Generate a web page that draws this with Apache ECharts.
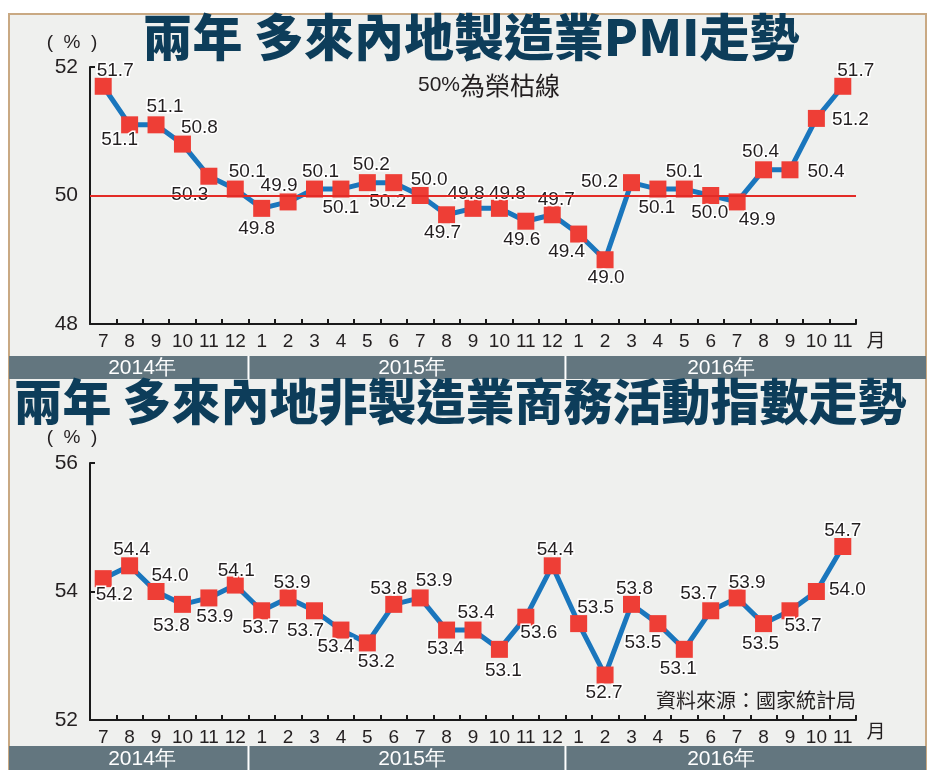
<!DOCTYPE html>
<html><head><meta charset="utf-8">
<script src="https://cdn.jsdelivr.net/npm/echarts@6/dist/echarts.min.js"></script>
<style>
html,body{margin:0;padding:0;background:#fff;overflow:hidden;width:946px;height:770px;}
#frame{position:absolute;left:8px;top:13px;width:919px;height:800px;background:#eff0ee;border:2px solid #c9a983;box-sizing:border-box;}
#chart{position:absolute;left:0;top:0;width:946px;height:770px;}
</style></head><body>
<div id="frame"></div><div id="chart"></div>
<script>
// ---- data ----
const months = ['7','8','9','10','11','12','1','2','3','4','5','6','7','8','9','10','11','12','1','2','3','4','5','6','7','8','9','10','11'];
const years = ['2014年','2015年','2016年'];
const pmiValues = [51.7,51.1,51.1,50.8,50.3,50.1, 49.8,49.9,50.1,50.1,50.2,50.2,50.0,49.7,49.8,49.8,49.6,49.7, 49.4,49.0,50.2,50.1,50.1,50.0,49.9,50.4,50.4,51.2,51.7];
const nonMfgValues = [54.2,54.4,54.0,53.8,53.9,54.1, 53.7,53.9,53.7,53.4,53.2,53.8,53.9,53.4,53.4,53.1,53.6,54.4, 53.5,52.7,53.8,53.5,53.1,53.7,53.9,53.5,53.7,54.0,54.7];
const pmiAxis = {min:48, max:52, interval:2};
const nonMfgAxis = {min:52, max:56, interval:2};
const pmiThreshold = 50;
// label placement (offsets from marker centre), kept apart from the data
const pmiLabelOffsets = [[12,-16],[-10,15],[9,-18],[17,-16],[-19,19],[12,-17],[-5,20],[-9,-16],[6,-17],[0,19],[4,-18],[-6,19],[9,-16],[-4,18],[-7,-15],[8,-15],[-4,19],[4,-15],[-12,18],[1,18],[-32,-1],[-1,19],[0,-17],[-1,17],[20,18],[-3,-18],[36,2],[34,1],[13,-16]];
const nonMfgLabelOffsets = [[11,16],[2,-16],[14,-16],[-11,21],[6,19],[1,-14],[-1,17],[4,-15],[-9,20],[-5,17],[9,19],[-5,-16],[14,-17],[-1,19],[3,-17],[4,21],[13,16],[3,-16],[17,-16],[-1,18],[3,-16],[-15,19],[-6,19],[-12,-17],[10,-15],[-3,20],[13,15],[31,-2],[0,-16]];

const NUM_FONT = '"Liberation Sans", Arial, Helvetica, sans-serif';
const CJK_FONT = '"Noto Sans CJK TC", "Noto Sans CJK SC", sans-serif';
const TXT = '#231f20';

function items(vals, offs){
  return vals.map((v,i)=>({value:v, label:{offset:offs[i]}}));
}
function lineSeries(vals, offs, idx){
  return {
    type:'line', xAxisIndex:idx, yAxisIndex:idx, z:3,
    data: items(vals, offs),
    symbol:'rect', symbolSize:17,
    itemStyle:{color:'#ee3e36'},
    lineStyle:{color:'#1a76bd', width:5},
    label:{show:true, position:'inside', color:TXT, fontSize:19, fontFamily:NUM_FONT,
      textBorderColor:'#ffffff', textBorderWidth:3,
      formatter:p=>Number(p.value).toFixed(1)},
    animation:false
  };
}
function xAx(idx){
  return {type:'category', gridIndex:idx, data:months, boundaryGap:true,
    axisLine:{lineStyle:{color:'#1a1a1a', width:2}},
    axisTick:{show:true, inside:true, length:5, lineStyle:{color:'#1a1a1a', width:2}},
    axisLabel:{interval:0, color:TXT, fontSize:19, fontFamily:NUM_FONT, margin:8, hideOverlap:false},
    splitLine:{show:false}};
}
function yAx(idx, ax){
  return {type:'value', gridIndex:idx, min:ax.min, max:ax.max, interval:ax.interval,
    axisLine:{show:true, lineStyle:{color:'#1a1a1a', width:2}},
    axisTick:{show:true, inside:true, length:5, lineStyle:{color:'#1a1a1a', width:2}},
    axisLabel:{color:TXT, fontSize:21, fontFamily:NUM_FONT, margin:12},
    splitLine:{show:false}};
}

const chart = echarts.init(document.getElementById('chart'), null, {renderer:'canvas'});
const option = {
  backgroundColor:'transparent',
  animation:false,
  grid:[
    {left:90, top:67, width:766, height:257},
    {left:90, top:463, width:766, height:257}
  ],
  xAxis:[xAx(0), xAx(1)],
  yAxis:[yAx(0,pmiAxis), yAx(1,nonMfgAxis)],
  series:[
    {type:'line', xAxisIndex:0, yAxisIndex:0, data:[], z:1, silent:true,
      markLine:{silent:true, symbol:['none','none'], label:{show:false},
        lineStyle:{color:'#e32b26', width:2, type:'solid'},
        data:[{yAxis:pmiThreshold}], animation:false}},
    lineSeries(pmiValues, pmiLabelOffsets, 0),
    lineSeries(nonMfgValues, nonMfgLabelOffsets, 1)
  ]
};
chart.setOption(option);

// decorations: bands aligned to the axis year boundaries
function bx(a,b){
  const p1 = chart.convertToPixel({xAxisIndex:0}, a);
  const p2 = chart.convertToPixel({xAxisIndex:0}, b);
  return (p1+p2)/2;
}
const sep1 = bx(5,6), sep2 = bx(17,18);
const bandL = 9, bandR = 926;
const yearX = [142, 412, 721];
function txt(x,y,t,size,family,fill,weight,align){
  return {type:'text', x:x, y:y, style:{text:t, fontSize:size, fontFamily:family, fontWeight:weight||'normal',
    fill:fill||TXT, textAlign:align||'center', textVerticalAlign:'middle'}};
}
function band(y, h){
  const els = [
    {type:'rect', shape:{x:bandL, y:y, width:bandR-bandL, height:h}, style:{fill:'#63767f'}},
    {type:'rect', shape:{x:sep1-1, y:y, width:2, height:h}, style:{fill:'#ffffff'}},
    {type:'rect', shape:{x:sep2-1, y:y, width:2, height:h}, style:{fill:'#ffffff'}}
  ];
  years.forEach((t,i)=>els.push(txt(yearX[i], y+h/2+1, t, 21, NUM_FONT, '#ffffff')));
  return els;
}
const graphic = [].concat(
  band(356,23),
  band(746,24),
  [
    txt(471,37,'兩年 多來內地製造業PMI走勢',50,CJK_FONT,'#0d3d5a',900),
    txt(460,401,'兩年 多來內地非製造業商務活動指數走勢',49,CJK_FONT,'#0d3d5a',900),
    txt(72,43,'(  %  )',19,NUM_FONT),
    txt(72,438,'(  %  )',19,NUM_FONT),
    {type:'text', x:418, y:85, style:{
      text:'{a|50%}{b|為榮枯線}', textAlign:'left', textVerticalAlign:'middle',
      rich:{a:{fontSize:21, fontFamily:NUM_FONT, fill:TXT, color:TXT}, b:{fontSize:25, fontFamily:CJK_FONT, fill:TXT, color:TXT}}}},
    txt(876,340,'月',19,CJK_FONT),
    txt(876,731,'月',19,CJK_FONT),
    txt(756,700,'資料來源：國家統計局',20,CJK_FONT)
  ]
);
chart.setOption({graphic:graphic});
</script>
</body></html>
